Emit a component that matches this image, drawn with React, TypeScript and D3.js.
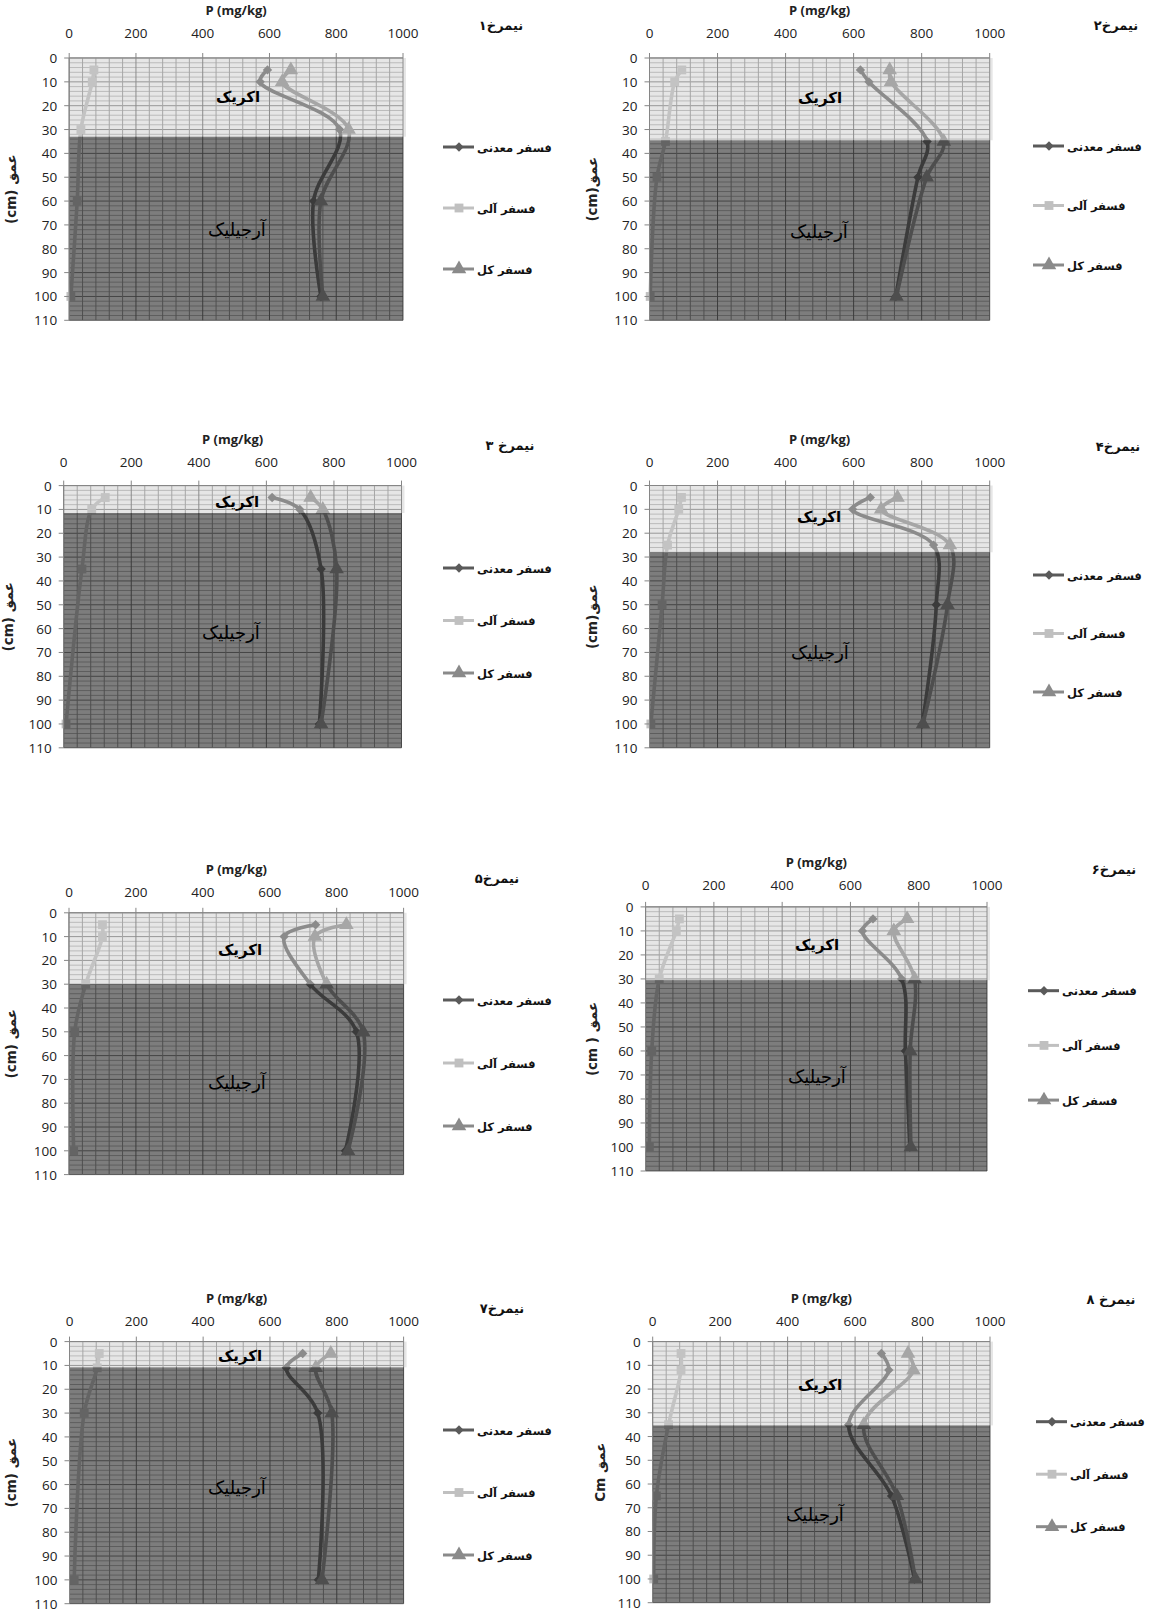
import React from 'react';
import * as d3 from 'd3';

// ---------- data ----------
const X_TICKS = [0, 200, 400, 600, 800, 1000];
const Y_TICKS = [0, 10, 20, 30, 40, 50, 60, 70, 80, 90, 100, 110];
const SERIES_NAMES = ['فسفر معدنی', 'فسفر آلی', 'فسفر کل'];
const X_TITLE = 'P (mg/kg)';
const PROFILE_TITLES = ['نیمرخ۱', 'نیمرخ۲', 'نیمرخ ۳', 'نیمرخ۴', 'نیمرخ۵', 'نیمرخ۶', 'نیمرخ۷', 'نیمرخ ۸'];
const Y_TITLES = ['(cm) عمق', '(cm)عمق', '(cm) عمق', '(cm)عمق', '(cm) عمق', '(cm ) عمق', '(cm) عمق', 'Cm عمق'];
const UPPER_HORIZON = 'اکریک';
const LOWER_HORIZON = 'آرجیلیک';
const BOUNDARIES = [33, 34.5, 11.5, 28, 30, 30.5, 10.8, 35.3];

const p1Depth = [5, 10, 30, 60, 100];
const p1Mineral = [594, 572, 810, 732, 754];
const p1Organic = [74, 69, 35, 24, 5];
const p1Total = [664, 638, 837, 754, 760];

const p2Depth = [5, 10, 35, 50, 100];
const p2Mineral = [620, 645, 816, 789, 724];
const p2Organic = [95, 74, 47, 22, 2];
const p2Total = [706, 710, 865, 815, 726];

const p3Depth = [5, 10, 35, 100];
const p3Mineral = [617, 699, 762, 757];
const p3Organic = [123, 83, 54, 7];
const p3Total = [731, 767, 808, 762];

const p4Depth = [5, 10, 25, 50, 100];
const p4Mineral = [649, 597, 835, 843, 802];
const p4Organic = [94, 86, 53, 37, 4];
const p4Total = [729, 681, 883, 876, 804];

const p5Depth = [5, 10, 30, 50, 100];
const p5Mineral = [737, 643, 721, 859, 826];
const p5Organic = [100, 100, 50, 17, 14];
const p5Total = [829, 735, 770, 879, 834];

const p6Depth = [5, 10, 30, 60, 100];
const p6Mineral = [666, 635, 750, 761, 774];
const p6Organic = [99, 90, 40, 18, 11];
const p6Total = [766, 727, 788, 775, 777];

const p7Depth = [5, 11, 30, 100];
const p7Mineral = [698, 649, 743, 745];
const p7Organic = [89, 83, 44, 14];
const p7Total = [782, 737, 785, 756];

const p8Depth = [5, 12, 35, 65, 100];
const p8Mineral = [678, 700, 581, 708, 776];
const p8Organic = [84, 84, 47, 11, 3];
const p8Total = [757, 773, 626, 724, 779];

const PROFILES = [
  { depth: p1Depth, series: [p1Mineral, p1Organic, p1Total] },
  { depth: p2Depth, series: [p2Mineral, p2Organic, p2Total] },
  { depth: p3Depth, series: [p3Mineral, p3Organic, p3Total] },
  { depth: p4Depth, series: [p4Mineral, p4Organic, p4Total] },
  { depth: p5Depth, series: [p5Mineral, p5Organic, p5Total] },
  { depth: p6Depth, series: [p6Mineral, p6Organic, p6Total] },
  { depth: p7Depth, series: [p7Mineral, p7Organic, p7Total] },
  { depth: p8Depth, series: [p8Mineral, p8Organic, p8Total] },
];

// ---------- layout ----------
const LAYOUT = [
  { x0: 69.2, x1: 403, y0: 58, y1: 320.3, dy: -4, tx: 501, ty: 25, yt: 11, lx: 443, ly: 147, lg: 61, ox: 238, oy: 97, ax: 237, ay: 230 },
  { x0: 649.5, x1: 989.7, y0: 58, y1: 320.3, dy: -4, tx: 1116, ty: 25, yt: 592, lx: 1033, ly: 146, lg: 59.5, ox: 820, oy: 98, ax: 819, ay: 232 },
  { x0: 63.7, x1: 401.5, y0: 485.6, y1: 747.8, dy: -2.5, tx: 510, ty: 445, yt: 8, lx: 443, ly: 568, lg: 52.5, ox: 237, oy: 502, ax: 231, ay: 633 },
  { x0: 649.5, x1: 989.7, y0: 485.5, y1: 747.8, dy: -2.5, tx: 1118, ty: 446, yt: 592, lx: 1033, ly: 575, lg: 58.5, ox: 819, oy: 517, ax: 820, ay: 653 },
  { x0: 69, x1: 403.6, y0: 912.8, y1: 1174.6, dy: 0, tx: 497, ty: 878, yt: 11, lx: 443, ly: 1000, lg: 63, ox: 240, oy: 950, ax: 237, ay: 1083 },
  { x0: 645.6, x1: 987, y0: 906.9, y1: 1171, dy: -1, tx: 1114, ty: 869, yt: 592, lx: 1028, ly: 990.7, lg: 54.7, ox: 817, oy: 945, ax: 817, ay: 1077 },
  { x0: 69.5, x1: 403.6, y0: 1341.6, y1: 1603.7, dy: 0, tx: 502, ty: 1308, yt: 11, lx: 443, ly: 1430, lg: 62.5, ox: 240, oy: 1356, ax: 237, ay: 1488 },
  { x0: 652.7, x1: 990, y0: 1341.6, y1: 1602.7, dy: 0, tx: 1111, ty: 1299, yt: 600, lx: 1036, ly: 1421.7, lg: 52.5, ox: 820, oy: 1385, ax: 815, ay: 1515 },
];

const SERIES_COLORS = ['#5a5a5a', '#c0c0c0', '#8a8a8a'];
const LATIN = "'Open Sans', 'Liberation Sans', sans-serif";
const PERSIAN = "'DejaVu Sans', sans-serif";

const symbolPath = (i: number) => {
  if (i === 0) return d3.symbol().type(d3.symbolSquare).size(44)() as string;
  if (i === 1) return d3.symbol().type(d3.symbolSquare).size(78)() as string;
  return d3.symbol().type(d3.symbolTriangle).size(92)() as string;
};

const Marker = ({ i, cx, cy, color }: { i: number; cx: number; cy: number; color: string }) => (
  <path
    d={symbolPath(i)}
    fill={color}
    transform={`translate(${cx},${cy})${i === 0 ? ' rotate(45)' : ''}`}
  />
);

const Panel = ({ idx }: { idx: number }) => {
  const L = LAYOUT[idx];
  const prof = PROFILES[idx];
  const b = BOUNDARIES[idx];
  const x = d3.scaleLinear().domain([0, 1000]).range([L.x0, L.x1]);
  const y = d3.scaleLinear().domain([0, 110]).range([L.y0, L.y1]);
  const line = d3
    .line<[number, number]>()
    .x((d) => x(d[0]))
    .y((d) => y(d[1]))
    .curve(d3.curveCatmullRom.alpha(0.5));

  const vMinor = d3.range(0, 1001, 40).filter((v) => v % 200 !== 0);
  const hMinor = d3.range(0, 111, 2).filter((v) => v % 10 !== 0);

  return (
    <g>
      <rect x={L.x0} y={L.y0} width={L.x1 - L.x0} height={L.y1 - L.y0} fill="#ffffff" />
      {hMinor.map((v) => (
        <line key={'hm' + v} x1={L.x0} x2={L.x1} y1={y(v)} y2={y(v)} stroke="#b0b0b0" strokeWidth={1} />
      ))}
      {Y_TICKS.map((v) => (
        <line key={'hM' + v} x1={L.x0} x2={L.x1} y1={y(v)} y2={y(v)} stroke="#707070" strokeWidth={1} />
      ))}
      {vMinor.map((v) => (
        <line key={'vm' + v} x1={x(v)} x2={x(v)} y1={L.y0} y2={L.y1} stroke="#8a8a8a" strokeWidth={1} />
      ))}
      {X_TICKS.map((v) => (
        <line key={'vM' + v} x1={x(v)} x2={x(v)} y1={L.y0} y2={L.y1} stroke="#5a5a5a" strokeWidth={1} />
      ))}
      {prof.series.map((s, si) => {
        const pts = prof.depth.map((d, k) => [s[k], d] as [number, number]);
        return (
          <g key={'s' + si}>
            <path d={line(pts) as string} fill="none" stroke={SERIES_COLORS[si]} strokeWidth={3.6} strokeLinejoin="round" />
            {pts.map((p, k) => (
              <Marker key={k} i={si} cx={x(p[0])} cy={y(p[1])} color={SERIES_COLORS[si]} />
            ))}
          </g>
        );
      })}
      <rect x={L.x0} y={y(0)} width={L.x1 - L.x0 + 3} height={y(b) - y(0)} fill="#c7c7c7" fillOpacity={0.45} />
      <rect x={L.x0} y={y(b)} width={L.x1 - L.x0} height={y(110) - y(b)} fill="#272727" fillOpacity={0.6} />
      {/* axes */}
      <line x1={L.x0} x2={L.x1} y1={L.y0} y2={L.y0} stroke="#868686" strokeWidth={1} />
      <line x1={L.x0} x2={L.x0} y1={L.y0} y2={L.y1} stroke="#868686" strokeWidth={1} />
      {X_TICKS.map((v) => (
        <g key={'xt' + v}>
          <line x1={x(v)} x2={x(v)} y1={L.y0 - 5} y2={L.y0} stroke="#868686" />
          <text x={x(v)} y={L.y0 - 16 + L.dy} textAnchor="middle" fontFamily={LATIN} fontSize={13.5} fill="#222">
            {v}
          </text>
        </g>
      ))}
      {Y_TICKS.map((v) => (
        <g key={'yt' + v}>
          <line x1={L.x0 - 5} x2={L.x0} y1={y(v)} y2={y(v)} stroke="#868686" />
          <text x={L.x0 - 12} y={y(v) + 5} textAnchor="end" fontFamily={LATIN} fontSize={13.5} fill="#222">
            {v}
          </text>
        </g>
      ))}
      <text x={(L.x0 + L.x1) / 2} y={L.y0 - 39 + L.dy} textAnchor="middle" fontFamily={LATIN} fontWeight="bold" fontSize={13} fill="#222">
        {X_TITLE}
      </text>
      <text
        transform={`translate(${L.yt},${(L.y0 + L.y1) / 2}) rotate(-90)`}
        textAnchor="middle"
        dominantBaseline="central"
        fontFamily={PERSIAN}
        fontWeight="bold"
        fontSize={13.5}
        fill="#222"
      >
        {Y_TITLES[idx]}
      </text>
      <text x={L.tx} y={L.ty + 5} textAnchor="middle" fontFamily={PERSIAN} fontWeight="bold" fontSize={13} fill="#111">
        {PROFILE_TITLES[idx]}
      </text>
      <text x={L.ox} y={L.oy + 5} textAnchor="middle" fontFamily={PERSIAN} fontWeight="bold" fontSize={15} fill="#000">
        {UPPER_HORIZON}
      </text>
      <text x={L.ax} y={L.ay + 6} textAnchor="middle" fontFamily={PERSIAN} fontSize={18} fill="#000">
        {LOWER_HORIZON}
      </text>
      {SERIES_NAMES.map((name, si) => {
        const ly = L.ly + si * L.lg;
        return (
          <g key={'lg' + si}>
            <line x1={L.lx} x2={L.lx + 31} y1={ly} y2={ly} stroke={SERIES_COLORS[si]} strokeWidth={3} />
            <Marker i={si} cx={L.lx + 16} cy={ly} color={SERIES_COLORS[si]} />
            <text x={L.lx + 34} y={ly + 4.5} textAnchor="start" fontFamily={PERSIAN} fontWeight="bold" fontSize={11.5} fill="#111">
              {name}
            </text>
          </g>
        );
      })}
    </g>
  );
};

export default function App() {
  return (
    <svg
      width={1156}
      height={1612}
      viewBox="0 0 1156 1612"
      style={{ position: 'absolute', left: 0, top: 0, background: '#fff' }}
    >
      <rect x={0} y={0} width={1156} height={1612} fill="#ffffff" />
      {PROFILES.map((_, i) => (
        <Panel key={i} idx={i} />
      ))}
    </svg>
  );
}
